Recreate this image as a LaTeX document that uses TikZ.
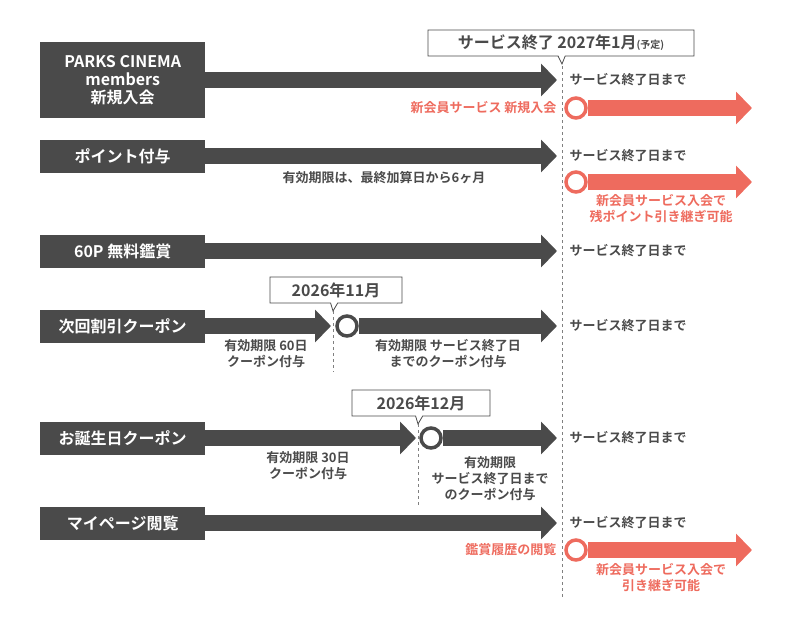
\documentclass[tikz,border=0pt]{standalone}
\usepackage{fontspec}
\setmainfont{Noto Sans CJK JP}[BoldFont={* Bold}]
\usetikzlibrary{arrows.meta,shapes.callouts}
\definecolor{dk}{HTML}{4A4A4A}
\definecolor{rd}{HTML}{EE6B5E}
\begin{document}
\begin{tikzpicture}[x=1pt,y=-1pt,
 lbox/.style={fill=dk,text=white,font=\bfseries\fontsize{16}{18}\selectfont,minimum width=165pt,anchor=west,align=center,inner sep=3pt},
 darr/.style={draw=dk,line width=16pt,-{Triangle[length=16pt,width=32pt]}},
 rarr/.style={draw=rd,line width=16pt,-{Triangle[length=16pt,width=32pt]}},
 circ/.style={circle,fill=white,line width=3.5pt,minimum size=20pt,inner sep=0pt},
 dtxt/.style={text=dk,font=\bfseries\fontsize{13}{16}\selectfont,align=center},
 rtxt/.style={text=rd,font=\bfseries\fontsize{13}{16}\selectfont,align=center},
 call/.style={rectangle callout,draw=dk,fill=white,line width=0.8pt,text=dk,font=\bfseries\fontsize{16}{18}\selectfont,inner sep=4pt,minimum height=26pt},
 vdash/.style={draw=gray,dashed,line width=1pt}]
\useasboundingbox (0,0) rectangle (790,625);
% dashed lines
\draw[vdash] (562,60) -- (562,598);
\draw[vdash] (333,305) -- (333,372);
\draw[vdash] (418,418) -- (418,505);
% callouts
\node[call,callout absolute pointer={(562,64)},minimum width=266pt] (c1) at (561,43) {サービス終了 2027年1月{\fontsize{10}{12}\selectfont(予定)}};
\node[call,callout absolute pointer={(333,311)},minimum width=132pt] (c2) at (336,290) {2026年11月};
\node[call,callout absolute pointer={(418,424)},minimum width=138pt] (c3) at (421,403) {2026年12月};
% boxes
\node[lbox,minimum height=76pt] (b1) at (40,80) {PARKS CINEMA\\members\\新規入会};
\node[lbox,minimum height=33pt] (b2) at (40,156) {ポイント付与};
\node[lbox,minimum height=33pt] (b3) at (40,251) {60P 無料鑑賞};
\node[lbox,minimum height=33pt] (b4) at (40,326) {次回割引クーポン};
\node[lbox,minimum height=33pt] (b5) at (40,438) {お誕生日クーポン};
\node[lbox,minimum height=33pt] (b6) at (40,523) {マイページ閲覧};
% end coordinates
\coordinate (e1) at (557,80);
\coordinate (e2) at (557,156);
\coordinate (e3) at (557,251);
\coordinate (e4a) at (331,326);
\coordinate (e4) at (557,326);
\coordinate (e5a) at (416,438);
\coordinate (e5) at (557,438);
\coordinate (e6) at (557,523);
\draw[darr] (b1.east) -- (e1);
\draw[darr] (b2.east) -- (e2);
\draw[darr] (b3.east) -- (e3);
\draw[darr] (b4.east) -- (e4a);
\draw[darr] (b5.east) -- (e5a);
\draw[darr] (b6.east) -- (e6);
\node[circ,draw=dk] (k4) at (347,326) {};
\node[circ,draw=dk] (k5) at (431,438) {};
\draw[darr] (k4.east) -- (e4);
\draw[darr] (k5.east) -- (e5);
% red
\coordinate (r1) at (752,108);
\coordinate (r2) at (752,182);
\coordinate (r6) at (752,550);
\node[circ,draw=rd] (q1) at (576,108) {};
\node[circ,draw=rd] (q2) at (576,182) {};
\node[circ,draw=rd] (q6) at (576,550) {};
\draw[rarr] (q1.east) -- (r1);
\draw[rarr] (q2.east) -- (r2);
\draw[rarr] (q6.east) -- (r6);
% labels
\foreach \y/\n in {80/s1,156/s2,251/s3,326/s4,438/s5,523/s6}
  \node[dtxt,anchor=west] (\n) at (566,\y) {サービス終了日まで};
\node[rtxt,anchor=east] (t1) at (560,108) {新会員サービス 新規入会};
\node[rtxt] (t2) at (661,209) {新会員サービス入会で\\残ポイント引き継ぎ可能};
\node[rtxt,anchor=east] (t6) at (560,550) {鑑賞履歴の閲覧};
\node[rtxt] (t7) at (661,578) {新会員サービス入会で\\引き継ぎ可能};
\node[dtxt] (u2) at (384,178) {有効期限は、最終加算日から6ヶ月};
\node[dtxt] (u4a) at (266,354) {有効期限 60日\\クーポン付与};
\node[dtxt] (u4b) at (448,354) {有効期限 サービス終了日\\までのクーポン付与};
\node[dtxt] (u5a) at (308,466) {有効期限 30日\\クーポン付与};
\node[dtxt] (u5b) at (490,479) {有効期限\\サービス終了日まで\\のクーポン付与};
\end{tikzpicture}
\end{document}
